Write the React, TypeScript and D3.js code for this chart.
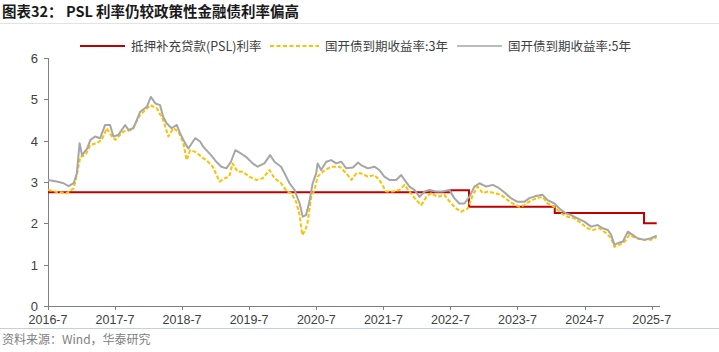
import React from 'react';
import * as d3 from 'd3';

// PSL rate (step series)
const pslDates = ['2016-07-01', '2022-07-01', '2022-10-10', '2024-01-20', '2025-05-20', '2025-07-28'];
const pslRates = [2.75, 2.8, 2.4, 2.25, 2.0, 2.0];

// CDB 3y yield
const y3Dates = [
  '2016-07-01', '2016-08-18', '2016-10-12', '2016-11-18', '2016-12-05', '2016-12-24', '2017-01-21', '2017-02-17',
  '2017-03-23', '2017-04-20', '2017-05-17', '2017-06-14', '2017-07-02', '2017-08-16', '2017-10-01', '2017-11-15',
  '2018-01-09', '2018-02-14', '2018-03-20', '2018-04-17', '2018-05-14', '2018-06-11', '2018-07-08', '2018-07-26',
  '2018-08-14', '2018-09-10', '2018-10-04', '2018-10-25', '2018-11-10', '2018-12-15', '2019-01-21', '2019-02-18',
  '2019-03-15', '2019-04-02', '2019-04-29', '2019-05-27', '2019-07-02', '2019-08-08', '2019-09-13', '2019-10-20',
  '2019-11-16', '2019-12-22', '2020-01-22', '2020-02-16', '2020-03-13', '2020-04-01', '2020-04-15', '2020-05-03',
  '2020-05-15', '2020-06-03', '2020-06-21', '2020-07-08', '2020-08-05', '2020-09-02', '2020-09-29', '2020-11-05',
  '2020-12-11', '2021-01-08', '2021-02-04', '2021-03-01', '2021-04-07', '2021-05-13', '2021-06-09', '2021-07-16',
  '2021-08-21', '2021-09-27', '2021-10-24', '2021-11-20', '2021-12-27', '2022-01-23', '2022-02-20', '2022-03-17',
  '2022-04-22', '2022-05-29', '2022-07-05', '2022-08-01', '2022-08-28', '2022-10-04', '2022-10-31', '2022-11-27',
  '2022-12-24', '2023-01-21', '2023-02-27', '2023-04-03', '2023-05-09', '2023-06-05', '2023-07-11', '2023-08-07',
  '2023-09-14', '2023-10-19', '2023-11-15', '2023-12-12', '2024-01-18', '2024-02-24', '2024-03-30', '2024-05-06',
  '2024-06-12', '2024-07-17', '2024-08-14', '2024-09-20', '2024-10-26', '2024-11-22', '2024-12-10', '2025-01-07',
  '2025-02-04', '2025-03-01', '2025-04-07', '2025-05-21', '2025-06-27', '2025-07-28',
];
const y3Values = [
  2.81, 2.76, 2.73, 2.85, 3.17, 3.61, 3.65, 3.9,
  3.94, 4.02, 4.3, 4.1, 4.02, 4.22, 4.26, 4.62,
  4.86, 4.78, 4.5, 4.1, 4.3, 4.22, 3.94, 3.53,
  3.77, 3.73, 3.65, 3.57, 3.53, 3.37, 3.01, 3.09,
  3.13, 3.45, 3.25, 3.25, 3.13, 3.05, 3.09, 3.29,
  3.09, 2.97, 2.77, 2.73, 2.52, 2.2, 1.72, 1.84,
  2.04, 2.64, 2.81, 3.13, 3.25, 3.33, 3.37, 3.37,
  3.21, 3.05, 3.21, 3.21, 3.13, 3.17, 3.05, 2.77,
  2.77, 2.81, 2.93, 2.77, 2.56, 2.44, 2.64, 2.73,
  2.64, 2.69, 2.48, 2.36, 2.28, 2.36, 2.69, 2.89,
  2.73, 2.77, 2.73, 2.69, 2.56, 2.48, 2.4, 2.44,
  2.56, 2.61, 2.64, 2.48, 2.4, 2.24, 2.16, 2.12,
  2.0, 1.88, 1.84, 1.88, 1.76, 1.64, 1.43, 1.48,
  1.56, 1.72, 1.64, 1.6, 1.6, 1.66,
];

// CDB 5y yield
const y5Dates = [
  '2016-07-01', '2016-08-18', '2016-09-24', '2016-10-21', '2016-11-18', '2016-12-05', '2016-12-20', '2017-01-02',
  '2017-01-30', '2017-02-17', '2017-03-14', '2017-04-11', '2017-05-08', '2017-06-04', '2017-06-22', '2017-07-19',
  '2017-08-25', '2017-09-12', '2017-10-09', '2017-11-15', '2017-12-21', '2018-01-12', '2018-02-06', '2018-03-03',
  '2018-03-20', '2018-04-08', '2018-05-05', '2018-06-02', '2018-06-20', '2018-07-17', '2018-08-04', '2018-09-10',
  '2018-10-07', '2018-10-25', '2018-11-10', '2018-12-06', '2019-01-03', '2019-01-31', '2019-02-27', '2019-03-24',
  '2019-04-17', '2019-05-17', '2019-06-14', '2019-07-20', '2019-08-16', '2019-09-22', '2019-10-23', '2019-11-16',
  '2019-12-22', '2020-01-19', '2020-02-06', '2020-03-04', '2020-04-01', '2020-04-18', '2020-05-06', '2020-05-24',
  '2020-06-11', '2020-06-30', '2020-07-08', '2020-07-27', '2020-08-24', '2020-09-20', '2020-10-17', '2020-11-14',
  '2020-12-11', '2021-01-16', '2021-02-13', '2021-03-01', '2021-04-07', '2021-05-13', '2021-06-09', '2021-07-06',
  '2021-08-03', '2021-09-09', '2021-10-06', '2021-10-24', '2021-11-20', '2021-12-17', '2022-01-14', '2022-02-11',
  '2022-03-08', '2022-04-13', '2022-05-19', '2022-06-25', '2022-07-22', '2022-08-18', '2022-09-15', '2022-10-12',
  '2022-11-09', '2022-12-06', '2023-01-12', '2023-02-17', '2023-03-23', '2023-04-20', '2023-05-26', '2023-07-01',
  '2023-08-07', '2023-09-04', '2023-10-10', '2023-11-15', '2023-12-12', '2024-01-18', '2024-02-24', '2024-03-21',
  '2024-04-18', '2024-05-23', '2024-06-29', '2024-08-05', '2024-09-10', '2024-10-07', '2024-11-04', '2024-11-22',
  '2024-12-10', '2024-12-28', '2025-01-25', '2025-02-21', '2025-03-19', '2025-04-15', '2025-05-21', '2025-06-27',
  '2025-07-28',
];
const y5Values = [
  3.05, 3.01, 2.97, 2.9, 2.97, 3.21, 3.94, 3.65,
  3.81, 4.02, 4.1, 4.06, 4.38, 4.38, 4.1, 4.14,
  4.38, 4.26, 4.3, 4.7, 4.82, 5.06, 4.9, 4.86,
  4.58, 4.42, 4.3, 4.38, 4.18, 3.94, 3.81, 4.06,
  3.98, 3.85, 3.77, 3.65, 3.49, 3.37, 3.33, 3.49,
  3.77, 3.69, 3.61, 3.45, 3.37, 3.45, 3.65, 3.49,
  3.37, 3.13, 2.97, 2.81, 2.48, 2.16, 2.2, 2.52,
  2.97, 3.21, 3.45, 3.29, 3.49, 3.53, 3.45, 3.49,
  3.33, 3.35, 3.47, 3.41, 3.33, 3.37, 3.29, 3.13,
  3.05, 3.05, 3.17, 3.05, 2.89, 2.81, 2.64, 2.77,
  2.81, 2.77, 2.77, 2.81, 2.61, 2.48, 2.48, 2.64,
  2.89, 2.97, 2.89, 2.93, 2.85, 2.75, 2.61, 2.52,
  2.52, 2.61, 2.66, 2.69, 2.56, 2.48, 2.32, 2.24,
  2.2, 2.12, 2.04, 1.92, 1.96, 1.88, 1.84, 1.72,
  1.48, 1.52, 1.56, 1.8, 1.72, 1.64, 1.6, 1.64,
  1.7,
];

const xTickLabels = ['2016-7', '2017-7', '2018-7', '2019-7', '2020-7', '2021-7', '2022-7', '2023-7', '2024-7', '2025-7'];
const yTicks = [0, 1, 2, 3, 4, 5, 6];

const legendLabels = ['抵押补充贷款(PSL)利率', '国开债到期收益率:3年', '国开债到期收益率:5年'];

const W = 719;
const H = 352;
const FONT = '"Liberation Sans", Arial, "Noto Sans CJK SC", sans-serif';
const CJK = '"Noto Sans CJK SC", "Liberation Sans", sans-serif';

const parse = d3.timeParse('%Y-%m-%d');

interface Pt {
  date: Date;
  value: number;
}

const zip = (dates: string[], vals: number[]): Pt[] =>
  dates.map((d, i) => ({ date: parse(d) as Date, value: vals[i] }));

export default function App() {
  const x = d3
    .scaleTime()
    .domain([new Date(2016, 6, 1), new Date(2025, 7, 15)])
    .range([48, 660]);
  const y = d3.scaleLinear().domain([0, 6]).range([306, 58]);

  const line = d3
    .line<Pt>()
    .x((d) => x(d.date))
    .y((d) => y(d.value));
  const stepLine = d3
    .line<Pt>()
    .x((d) => x(d.date))
    .y((d) => y(d.value))
    .curve(d3.curveStepAfter);

  const psl = zip(pslDates, pslRates);
  const s3 = zip(y3Dates, y3Values);
  const s5 = zip(y5Dates, y5Values);

  const xTicks = xTickLabels.map((l) => {
    const [yr, mo] = l.split('-').map(Number);
    return { label: l, date: new Date(yr, mo - 1, 1) };
  });

  const axisColor = '#7f7f7f';
  const textColor = '#404040';

  const legendY = 46;

  return (
    <svg width={W} height={H} style={{ position: 'absolute', left: 0, top: 0, background: '#fff' }}>
      <rect width={W} height={H} fill="#fff" />
      {/* title */}
      <text x={2} y={17} fontFamily={CJK} fontSize={14.5} fontWeight="bold" fill="#1a1a1a">
        图表32： PSL 利率仍较政策性金融债利率偏高
      </text>
      <line x1={0} x2={W} y1={23.5} y2={23.5} stroke="#e3e3e3" strokeWidth={1} />

      {/* legend */}
      <g fontFamily={CJK} fontSize={12.5} fill={textColor}>
        <line x1={80} x2={125} y1={legendY} y2={legendY} stroke="#c00000" strokeWidth={2} />
        <text x={131} y={legendY + 4.5}>{legendLabels[0]}</text>
        <line x1={270} x2={319} y1={legendY} y2={legendY} stroke="#ffc000" strokeWidth={2} strokeDasharray="4 2.5" />
        <text x={325} y={legendY + 4.5}>{legendLabels[1]}</text>
        <line x1={457} x2={502} y1={legendY} y2={legendY} stroke="#a6a6a6" strokeWidth={1.5} />
        <text x={508} y={legendY + 4.5}>{legendLabels[2]}</text>
      </g>

      {/* y axis */}
      <line x1={48.5} x2={48.5} y1={y(6)} y2={y(0)} stroke={axisColor} strokeWidth={1} />
      {yTicks.map((t) => (
        <g key={t}>
          <line x1={44} x2={48.5} y1={Math.round(y(t)) + 0.5} y2={Math.round(y(t)) + 0.5} stroke={axisColor} />
          <text x={38} y={y(t) + 5} textAnchor="end" fontFamily={FONT} fontSize={13} fill={textColor}>
            {t}
          </text>
        </g>
      ))}

      {/* x axis */}
      <line x1={48} x2={660} y1={y(0) + 0.5} y2={y(0) + 0.5} stroke={axisColor} strokeWidth={1} />
      {xTicks.map((t) => (
        <g key={t.label}>
          <line
            x1={Math.round(x(t.date)) + 0.5}
            x2={Math.round(x(t.date)) + 0.5}
            y1={y(0)}
            y2={y(0) + 4}
            stroke={axisColor}
          />
          <text x={x(t.date)} y={y(0) + 18} textAnchor="middle" fontFamily={FONT} fontSize={12.5} fill={textColor}>
            {t.label}
          </text>
        </g>
      ))}

      {/* series */}
      <path d={stepLine(psl) || ''} fill="none" stroke="#c00000" strokeWidth={2} />
      <path
        d={line(s3) || ''}
        fill="none"
        stroke="#ffc000"
        strokeWidth={2}
        strokeDasharray="4 2"
        strokeLinejoin="round"
      />
      <path d={line(s5) || ''} fill="none" stroke="#a6a6a6" strokeWidth={2} strokeLinejoin="round" />

      {/* footer */}
      <line x1={0} x2={W} y1={328.5} y2={328.5} stroke="#c5d0dc" strokeWidth={1} />
      <text x={2} y={344} fontFamily={CJK} fontSize={12} fill="#808080">
        资料来源：Wind，华泰研究
      </text>
    </svg>
  );
}
